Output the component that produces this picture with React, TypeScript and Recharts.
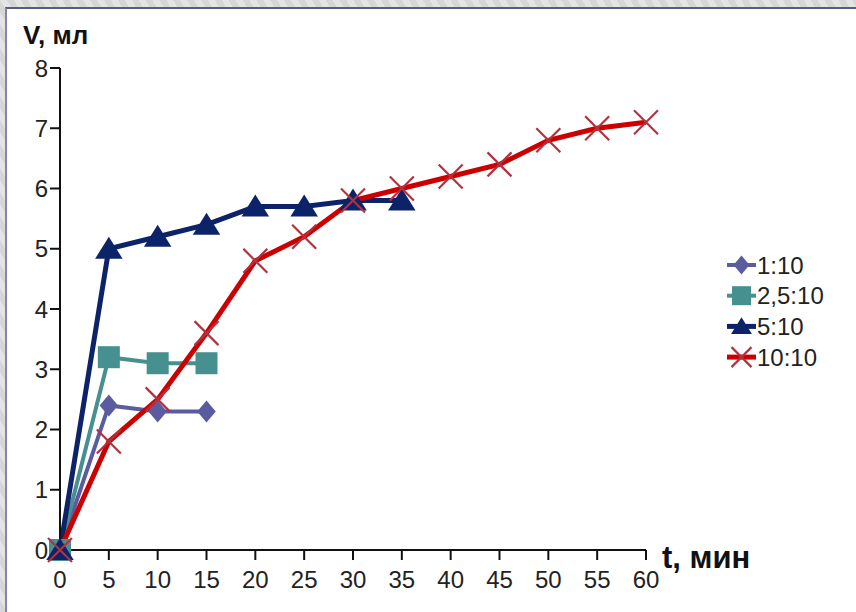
import React from 'react';
import { LineChart, Line, XAxis, YAxis } from 'recharts';

const times = [0, 5, 10, 15, 20, 25, 30, 35, 40, 45, 50, 55, 60];
const xTicks = [0, 5, 10, 15, 20, 25, 30, 35, 40, 45, 50, 55, 60];
const yTicks = [0, 1, 2, 3, 4, 5, 6, 7, 8];
const seriesNames = ['1:10', '2,5:10', '5:10', '10:10'];
const ratio1 = [0, 2.4, 2.3, 2.3];
const ratio25 = [0, 3.2, 3.1, 3.1];
const ratio5 = [0, 5.0, 5.2, 5.4, 5.7, 5.7, 5.8, 5.8];
const ratio10 = [0, 1.8, 2.5, 3.6, 4.8, 5.2, 5.8, 6.0, 6.2, 6.4, 6.8, 7.0, 7.1];

const data = times.map((t, i) => ({
  t,
  s1: ratio1[i],
  s25: ratio25[i],
  s5: ratio5[i],
  s10: ratio10[i],
}));

const C_PURPLE = '#5b5b9f';
const C_TEAL = '#479090';
const C_NAVY = '#0d2369';
const C_RED = '#cc0000';
const C_XMARK = '#b3303f';

const FONT = '"Liberation Sans", Arial, sans-serif';

type Shape = 'diamond' | 'square' | 'triangle' | 'x';

function marker(shape: Shape, cx: number, cy: number, color: string, s: number, key?: string) {
  if (shape === 'diamond') {
    const w = s * 0.42, h = s * 0.5;
    return <polygon key={key} points={`${cx},${cy - h} ${cx + w},${cy} ${cx},${cy + h} ${cx - w},${cy}`} fill={color} />;
  }
  if (shape === 'square') {
    const h = s * 0.5;
    return <rect key={key} x={cx - h} y={cy - h} width={2 * h} height={2 * h} fill={color} />;
  }
  if (shape === 'triangle') {
    const w = s * 0.55, h = s * 0.4;
    return <polygon key={key} points={`${cx},${cy - h * 1.2} ${cx + w},${cy + h} ${cx - w},${cy + h}`} fill={color} />;
  }
  const h = s * 0.5;
  return (
    <g key={key}>
      <line x1={cx - h} y1={cy - h} x2={cx + h} y2={cy + h} stroke={color} strokeWidth={2.2} />
      <line x1={cx - h} y1={cy + h} x2={cx + h} y2={cy - h} stroke={color} strokeWidth={2.2} />
    </g>
  );
}

const makeDot = (shape: Shape, color: string, s: number) => (props: any) => {
  const { cx, cy, index } = props;
  if (cx == null || cy == null || props.value == null) return <g key={`e${index}`} />;
  return marker(shape, cx, cy, color, s, `d${index}`);
};

const legendItems: { name: string; color: string; mcolor: string; shape: Shape; w: number }[] = [
  { name: seriesNames[0], color: C_PURPLE, mcolor: C_PURPLE, shape: 'diamond', w: 4 },
  { name: seriesNames[1], color: C_TEAL, mcolor: C_TEAL, shape: 'square', w: 4 },
  { name: seriesNames[2], color: C_NAVY, mcolor: C_NAVY, shape: 'triangle', w: 5 },
  { name: seriesNames[3], color: C_RED, mcolor: C_XMARK, shape: 'x', w: 5 },
];

export default function App() {
  return (
    <div
      style={{
        position: 'absolute',
        left: 0,
        top: 0,
        width: 856,
        height: 612,
        overflow: 'hidden',
        background: 'repeating-linear-gradient(60deg, #d6d6d6 0px, #d6d6d6 6px, #e4e4e4 6px, #e4e4e4 12px)',
      }}
    >
      <div
        style={{
          position: 'absolute',
          left: 5,
          top: 7,
          width: 851,
          height: 605,
          background: '#ffffff',
          borderTop: '2px solid #565b88',
          borderLeft: '2px solid #8783b0',
          boxSizing: 'border-box',
        }}
      />
      <div style={{ position: 'absolute', left: 0, top: 0 }}>
        <LineChart
          width={856}
          height={612}
          data={data}
          margin={{ top: 68, right: 210, bottom: 12, left: 10 }}
        >
          <XAxis
            dataKey="t"
            type="number"
            domain={[0, 60]}
            ticks={xTicks}
            interval={0}
            tickSize={10}
            tickMargin={11}
            axisLine={{ stroke: '#111', strokeWidth: 2 }}
            tickLine={{ stroke: '#111', strokeWidth: 2 }}
            tick={{ fill: '#222', fontSize: 24, fontFamily: FONT }}
            height={50}
          />
          <YAxis
            type="number"
            domain={[0, 8]}
            ticks={yTicks}
            interval={0}
            tickSize={10}
            tickMargin={2}
            axisLine={{ stroke: '#111', strokeWidth: 2 }}
            tickLine={{ stroke: '#111', strokeWidth: 2 }}
            tick={{ fill: '#222', fontSize: 24, fontFamily: FONT }}
            width={50}
          />
          <Line
            dataKey="s1"
            stroke={C_PURPLE}
            strokeWidth={4}
            type="linear"
            dot={makeDot('diamond', C_PURPLE, 22)}
            activeDot={false}
            isAnimationActive={false}
          />
          <Line
            dataKey="s25"
            stroke={C_TEAL}
            strokeWidth={4}
            type="linear"
            dot={makeDot('square', C_TEAL, 22)}
            activeDot={false}
            isAnimationActive={false}
          />
          <Line
            dataKey="s5"
            stroke={C_NAVY}
            strokeWidth={5}
            type="linear"
            dot={makeDot('triangle', C_NAVY, 25)}
            activeDot={false}
            isAnimationActive={false}
          />
          <Line
            dataKey="s10"
            stroke={C_RED}
            strokeWidth={5}
            type="linear"
            dot={makeDot('x', C_XMARK, 24)}
            activeDot={false}
            isAnimationActive={false}
          />
        </LineChart>
      </div>
      <svg
        width={856}
        height={612}
        style={{ position: 'absolute', left: 0, top: 0, pointerEvents: 'none' }}
      >
        <text x={23} y={44} fontFamily={FONT} fontWeight="bold" fontSize={26} fill="#111">
          V, мл
        </text>
        <text x={662} y={568} fontFamily={FONT} fontWeight="bold" fontSize={31} fill="#111">
          t, мин
        </text>
        {legendItems.map((it, i) => {
          const y = 265 + i * 30.7;
          return (
            <g key={it.name}>
              <line x1={727} y1={y} x2={756} y2={y} stroke={it.color} strokeWidth={it.w} />
              {marker(it.shape, 741.5, y, it.mcolor, it.shape === 'x' ? 20 : 19)}
              <text x={757} y={y} dy="0.36em" fontFamily={FONT} fontSize={24} fill="#222">
                {it.name}
              </text>
            </g>
          );
        })}
      </svg>
    </div>
  );
}
